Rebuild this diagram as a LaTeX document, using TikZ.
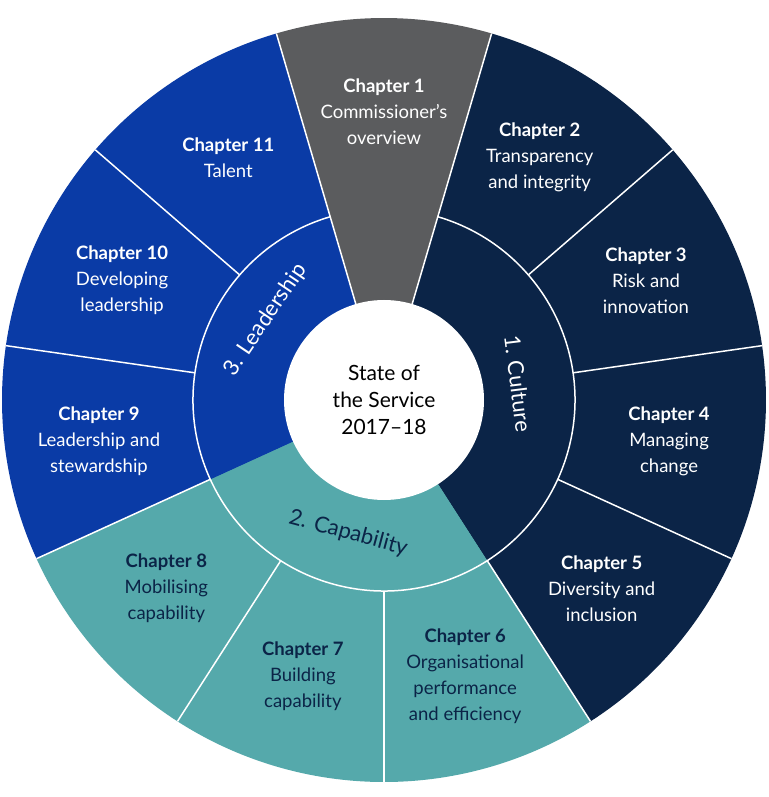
\documentclass[tikz,border=0pt]{standalone}
\usepackage{fontspec}
\setmainfont{Lato}
\definecolor{cgray}{HTML}{5B5C5E}
\definecolor{cnavy}{HTML}{0B2447}
\definecolor{cblue}{HTML}{0A3BA6}
\definecolor{cteal}{HTML}{55A9AB}
\begin{document}
\begin{tikzpicture}[x=1pt,y=1pt,
  lab/.style={align=center,font=\fontsize{18.5}{26}\selectfont},
  ring/.style={font=\fontsize{22}{24}\selectfont},
  sep/.style={white,line width=1.5pt}]
\fill[white] (-384,-397) rectangle (384,400);
\useasboundingbox (-384,-397) rectangle (384,400);
\def\W{32.7273}
\def\R{382}
% outer wedges
\foreach \k/\c in {1/cgray,2/cnavy,3/cnavy,4/cnavy,5/cnavy,6/cteal,7/cteal,8/cteal,9/cblue,10/cblue,11/cblue}{
  \pgfmathsetmacro\a{90-(\k-1)*\W+\W/2}
  \pgfmathsetmacro\b{90-(\k-1)*\W-\W/2}
  \fill[\c] (0,0) -- (\a:\R) arc[start angle=\a,end angle=\b,radius=\R] -- cycle;
}
% inner ring
\fill[cnavy] (0,0) -- (73.6364:191) arc[start angle=73.6364,end angle=-57.2727,radius=191] -- cycle;
\fill[cteal] (0,0) -- (-57.2727:191) arc[start angle=-57.2727,end angle=-155.4545,radius=191] -- cycle;
\fill[cblue] (0,0) -- (-155.4545:191) arc[start angle=-155.4545,end angle=-253.6364,radius=191] -- cycle;
% separators
\foreach \k in {2,...,10}{
  \pgfmathsetmacro\a{90-(\k-1)*\W-\W/2}
  \draw[sep] (\a:191) -- (\a:\R);
}
\draw[sep] (73.6364:100) -- (73.6364:\R);
\draw[sep] (106.3636:100) -- (106.3636:\R);
\draw[sep] (73.6364:191) arc[start angle=73.6364,end angle=-253.6364,radius=191];
\node[circle,fill=white,minimum size=200pt,inner sep=0pt] (c) at (0,0) {};
\node[lab,font=\fontsize{21}{27}\selectfont,text=black] (ct) at (0,0) {State of\\the Service\\2017–18};
% chapter labels
\foreach \k/\l/\t in {1/{Commissioner's\\overview}/white,2/{Transparency\\and integrity}/white,3/{Risk and\\innovation}/white,4/{Managing\\change}/white,5/{Diversity and\\inclusion}/white,6/{Organisational\\performance\\and efficiency}/cnavy,7/{Building\\capability}/cnavy,8/{Mobilising\\capability}/cnavy,9/{Leadership and\\stewardship}/white,10/{Developing\\leadership}/white,11/{Talent}/white}{
  \pgfmathsetmacro\a{90-(\k-1)*\W}
  \node[lab,text=\t] (ch\k) at (\a:288) {\textbf{Chapter \k}\\\l};
}
\node[ring,text=white,rotate=-83] (cul) at (7:135) {1. Culture};
\node[ring,text=cnavy,rotate=-15] (cap) at (-105:138) {2. Capability};
\node[ring,text=white,rotate=56] (lea) at (146:143) {3. Leadership};
\end{tikzpicture}
\end{document}
